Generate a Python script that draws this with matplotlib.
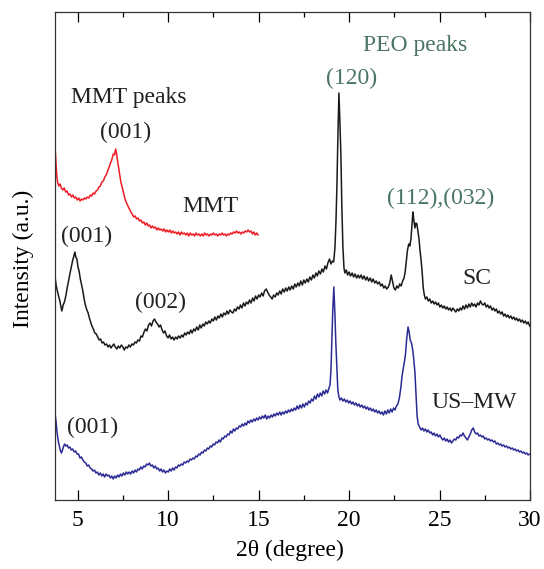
import matplotlib
matplotlib.use("Agg")
import matplotlib.pyplot as plt
from matplotlib.ticker import MultipleLocator

# XRD patterns (2theta in degrees, intensity in arbitrary units)
mmt_2theta = [3.75, 3.78, 3.81, 3.85, 3.90, 3.96, 4.03, 4.10, 4.18, 4.26, 4.34, 4.42, 4.50, 4.58, 4.66,
              4.74, 4.82, 4.90, 4.98, 5.06, 5.14, 5.22, 5.30, 5.38, 5.46, 5.54, 5.62, 5.70, 5.78, 5.86,
              5.94, 6.02, 6.10, 6.18, 6.26, 6.34, 6.42, 6.50, 6.58, 6.66, 6.74, 6.82, 6.90, 6.97, 7.04,
              7.10, 7.15, 7.20, 7.26, 7.32, 7.39, 7.46, 7.54, 7.62, 7.70, 7.78, 7.86, 7.94, 8.02, 8.10,
              8.18, 8.26, 8.34, 8.42, 8.50, 8.58, 8.66, 8.74, 8.82, 8.90, 8.98, 9.06, 9.14, 9.22, 9.30,
              9.38, 9.46, 9.54, 9.62, 9.70, 9.78, 9.86, 9.94, 10.02, 10.10, 10.18, 10.26, 10.34, 10.42,
              10.50, 10.58, 10.66, 10.74, 10.82, 10.90, 10.98, 11.06, 11.14, 11.22, 11.30, 11.38, 11.46,
              11.54, 11.62, 11.70, 11.78, 11.86, 11.94, 12.02, 12.10, 12.18, 12.26, 12.34, 12.42, 12.50,
              12.58, 12.66, 12.74, 12.82, 12.90, 12.98, 13.06, 13.14, 13.22, 13.30, 13.38, 13.46, 13.54,
              13.62, 13.70, 13.78, 13.86, 13.94, 14.02, 14.10, 14.18, 14.26, 14.34, 14.42, 14.50, 14.58,
              14.66, 14.74, 14.82, 14.90, 14.97]
mmt_int = [352, 345, 335, 324, 317, 314, 316, 312, 310, 312, 308, 309, 305, 306, 303,
           305, 302, 303, 300, 302, 299, 301, 300, 302, 301, 303, 302, 305, 304, 307,
           306, 309, 310, 313, 314, 318, 319, 323, 325, 329, 333, 337, 341, 346, 345,
           351, 347, 340, 333, 326, 318, 313, 307, 301, 297, 294, 291, 288, 286, 283,
           284, 281, 282, 279, 280, 277, 278, 275, 277, 274, 275, 272, 274, 272, 273,
           270, 272, 270, 271, 269, 271, 268, 270, 268, 270, 267, 269, 267, 268,
           266, 268, 265, 268, 266, 267, 265, 267, 264, 267, 265, 266, 264,
           267, 265, 266, 264, 266, 264, 267, 265, 266, 264, 266, 265, 267,
           265, 266, 264, 266, 265, 267, 265, 266, 264, 266, 265, 267, 266,
           268, 267, 269, 267, 268, 266, 268, 267, 269, 268, 270, 268, 269,
           266, 268, 265, 267, 265]

sc_2theta = [3.76, 3.82, 3.88, 3.95, 4.02, 4.08, 4.13, 4.20, 4.27, 4.35, 4.42, 4.50, 4.57, 4.65, 4.72,
             4.79, 4.85, 4.90, 4.96, 5.02, 5.08, 5.15, 5.22, 5.29, 5.36, 5.43, 5.51, 5.58, 5.65, 5.72,
             5.79, 5.87, 5.95, 6.03, 6.11, 6.19, 6.27, 6.35, 6.43, 6.51, 6.60, 6.68, 6.76, 6.84, 6.92,
             7.00, 7.08, 7.17, 7.25, 7.33, 7.42, 7.50, 7.58, 7.66, 7.75, 7.83, 7.91, 8.00, 8.08, 8.17,
             8.25, 8.33, 8.42, 8.50, 8.58, 8.67, 8.75, 8.83, 8.92, 9.00, 9.08, 9.17, 9.25, 9.33, 9.42,
             9.50, 9.58, 9.67, 9.75, 9.83, 9.92, 10.00, 10.08, 10.17, 10.25, 10.33, 10.42, 10.50, 10.58,
             10.67, 10.75, 10.83, 10.92, 11.00, 11.08, 11.17, 11.25, 11.33, 11.42, 11.50, 11.58, 11.67,
             11.75, 11.83, 11.92, 12.00, 12.08, 12.17, 12.25, 12.33, 12.42, 12.50, 12.58, 12.67, 12.75,
             12.83, 12.92, 13.00, 13.08, 13.17, 13.25, 13.33, 13.42, 13.50, 13.58, 13.67, 13.75, 13.83,
             13.92, 14.00, 14.08, 14.17, 14.25, 14.33, 14.42, 14.50, 14.58, 14.67, 14.75, 14.83, 14.92,
             15.00, 15.08, 15.17, 15.25, 15.33, 15.42, 15.50, 15.58, 15.67, 15.75, 15.83, 15.92, 16.00,
             16.08, 16.17, 16.25, 16.33, 16.42, 16.50, 16.58, 16.67, 16.75, 16.83, 16.92, 17.00, 17.08,
             17.17, 17.25, 17.33, 17.42, 17.50, 17.58, 17.67, 17.75, 17.83, 17.92, 18.00, 18.08, 18.17,
             18.25, 18.33, 18.42, 18.50, 18.58, 18.67, 18.75, 18.83, 18.92, 19.00, 19.08, 19.15, 19.22,
             19.28, 19.33, 19.38, 19.44, 19.50, 19.55, 19.60, 19.66, 19.72, 19.77, 19.85, 19.92, 20.00,
             20.08, 20.17, 20.25, 20.33, 20.42, 20.50, 20.58, 20.67, 20.75, 20.83, 20.92, 21.00, 21.08,
             21.17, 21.25, 21.33, 21.42, 21.50, 21.58, 21.67, 21.75, 21.83, 21.92, 22.00, 22.08, 22.17,
             22.25, 22.33, 22.40, 22.48, 22.56, 22.64, 22.72, 22.80, 22.88, 22.96, 23.04, 23.10, 23.16,
             23.23, 23.30, 23.36, 23.42, 23.48, 23.53, 23.58, 23.64, 23.70, 23.75, 23.81, 23.86, 23.92,
             23.98, 24.04, 24.10, 24.16, 24.22, 24.30, 24.38, 24.46, 24.54, 24.62, 24.70, 24.78, 24.86,
             24.94, 25.02, 25.10, 25.18, 25.26, 25.34, 25.42, 25.50, 25.58, 25.66, 25.74, 25.82, 25.90,
             25.98, 26.06, 26.14, 26.22, 26.30, 26.38, 26.46, 26.54, 26.62, 26.70, 26.78, 26.86, 26.94,
             27.02, 27.10, 27.18, 27.26, 27.34, 27.42, 27.50, 27.58, 27.66, 27.74, 27.82, 27.90, 27.98,
             28.06, 28.14, 28.22, 28.30, 28.38, 28.46, 28.54, 28.62, 28.70, 28.78, 28.86, 28.94, 29.02,
             29.10, 29.18, 29.26, 29.34, 29.42, 29.50, 29.58, 29.66, 29.74, 29.82, 29.90, 29.98]
sc_int = [222, 214, 209, 204, 199, 193, 189, 195, 198, 204, 212, 219, 226, 233, 239,
          244, 248, 243, 241, 233, 229, 221, 215, 209, 201, 195, 190, 187, 182, 178,
          174, 171, 167, 166, 163, 160, 161, 157, 158, 155, 156, 153, 155, 152, 154,
          156, 153, 151, 154, 152, 155, 153, 150, 153, 152, 155, 153, 156, 155, 158,
          157, 160, 159, 164, 163, 168, 171, 169, 175, 177, 174, 179, 181, 178, 176,
          173, 175, 170, 167, 169, 164, 162, 165, 161, 163, 160, 163, 161, 164,
          162, 165, 163, 167, 165, 168, 166, 170, 167, 171, 169, 173, 170,
          175, 172, 176, 174, 178, 176, 179, 177, 181, 179, 183, 180, 184,
          182, 186, 183, 187, 185, 189, 186, 190, 188, 187, 191, 189, 193,
          191, 195, 192, 197, 194, 198, 196, 200, 197, 202, 199, 204, 201,
          205, 203, 207, 204, 209, 211, 208, 205, 203, 201, 205, 203, 207,
          205, 209, 206, 211, 208, 212, 209, 213, 210, 214, 211, 216, 213,
          217, 214, 219, 215, 220, 217, 221, 218, 223, 220, 225, 222, 227,
          224, 229, 226, 231, 228, 234, 231, 237, 241, 236, 239, 238, 252,
          280, 315, 360, 407, 375, 345, 295, 253, 232, 227, 230, 225, 228,
          224, 227, 223, 226, 222, 225, 222, 225, 221, 224, 220, 223, 219,
          222, 218, 221, 217, 219, 216, 218, 214, 216, 212, 214, 211, 213,
          217, 225, 219, 212, 210, 214, 212, 216, 214, 219, 222, 228, 238,
          250, 256, 254, 261, 275, 288, 280, 272, 277, 276, 268, 262, 250,
          240, 228, 212, 205, 201, 203, 199, 201, 197, 199, 196, 198, 195,
          197, 193, 195, 192, 194, 191, 193, 190, 192, 189, 192, 190, 188,
          191, 189, 192, 190, 194, 191, 195, 192, 196, 193, 197, 194, 196,
          193, 197, 195, 199, 196, 195, 197, 193, 195, 192, 194, 190, 192,
          189, 191, 187, 189, 186, 188, 184, 186, 183, 185, 182, 184, 181,
          183, 180, 182, 179, 181, 178, 180, 177, 179, 176, 178, 174]

usmw_2theta = [3.77, 3.81, 3.85, 3.89, 3.94, 3.99, 4.04, 4.10, 4.15, 4.21, 4.28, 4.35, 4.42, 4.50, 4.57,
               4.65, 4.73, 4.81, 4.89, 4.97, 5.05, 5.13, 5.21, 5.29, 5.37, 5.45, 5.53, 5.61, 5.69, 5.77,
               5.85, 5.93, 6.01, 6.09, 6.17, 6.25, 6.33, 6.41, 6.49, 6.57, 6.65, 6.73, 6.81, 6.89, 6.97,
               7.05, 7.13, 7.21, 7.29, 7.37, 7.45, 7.53, 7.61, 7.69, 7.77, 7.85, 7.93, 8.01, 8.09, 8.17,
               8.25, 8.33, 8.41, 8.49, 8.57, 8.65, 8.73, 8.81, 8.89, 8.97, 9.05, 9.13, 9.21, 9.29, 9.37,
               9.45, 9.53, 9.61, 9.69, 9.77, 9.85, 9.93, 10.01, 10.09, 10.17, 10.25, 10.33, 10.41, 10.49,
               10.57, 10.65, 10.73, 10.81, 10.89, 10.97, 11.05, 11.13, 11.21, 11.29, 11.37, 11.45, 11.53,
               11.61, 11.69, 11.77, 11.85, 11.93, 12.01, 12.09, 12.17, 12.25, 12.33, 12.41, 12.49, 12.57,
               12.65, 12.73, 12.81, 12.89, 12.97, 13.05, 13.13, 13.21, 13.29, 13.37, 13.45, 13.53, 13.61,
               13.69, 13.77, 13.85, 13.93, 14.01, 14.09, 14.17, 14.25, 14.33, 14.41, 14.49, 14.57, 14.65,
               14.73, 14.81, 14.89, 14.97, 15.05, 15.13, 15.21, 15.29, 15.37, 15.45, 15.53, 15.61, 15.69,
               15.77, 15.85, 15.93, 16.01, 16.09, 16.17, 16.25, 16.33, 16.41, 16.49, 16.57, 16.65, 16.73,
               16.81, 16.89, 16.97, 17.05, 17.13, 17.21, 17.29, 17.37, 17.45, 17.53, 17.61, 17.69, 17.77,
               17.85, 17.93, 18.01, 18.09, 18.17, 18.25, 18.33, 18.41, 18.49, 18.57, 18.65, 18.73, 18.81,
               18.89, 18.95, 19.00, 19.05, 19.10, 19.16, 19.22, 19.27, 19.33, 19.38, 19.44, 19.50, 19.58,
               19.66, 19.74, 19.82, 19.90, 19.98, 20.06, 20.14, 20.22, 20.30, 20.38, 20.46, 20.54, 20.62,
               20.70, 20.78, 20.86, 20.94, 21.02, 21.10, 21.18, 21.26, 21.34, 21.42, 21.50, 21.58, 21.66,
               21.74, 21.82, 21.90, 21.98, 22.06, 22.14, 22.22, 22.30, 22.38, 22.46, 22.54, 22.62, 22.70,
               22.78, 22.86, 22.93, 23.00, 23.06, 23.12, 23.19, 23.26, 23.32, 23.38, 23.45, 23.52, 23.58,
               23.64, 23.70, 23.76, 23.82, 23.90, 23.98, 24.06, 24.14, 24.22, 24.30, 24.38, 24.46, 24.54,
               24.62, 24.70, 24.78, 24.86, 24.94, 25.02, 25.10, 25.18, 25.26, 25.34, 25.42, 25.50, 25.58,
               25.66, 25.74, 25.82, 25.90, 25.98, 26.06, 26.14, 26.22, 26.30, 26.38, 26.46, 26.54, 26.62,
               26.70, 26.78, 26.86, 26.94, 27.02, 27.10, 27.18, 27.26, 27.34, 27.42, 27.50, 27.58, 27.66,
               27.74, 27.82, 27.90, 27.98, 28.06, 28.14, 28.22, 28.30, 28.38, 28.46, 28.54, 28.62, 28.70,
               28.78, 28.86, 28.94, 29.02, 29.10, 29.18, 29.26, 29.34, 29.42, 29.50, 29.58, 29.66, 29.74,
               29.82, 29.90, 29.98]
usmw_int = [84, 78, 70, 64, 58, 54, 50, 47, 49, 53, 56, 54, 55, 52, 53,
            50, 51, 48, 49, 46, 46, 42, 43, 40, 38, 37, 34, 35, 32, 31,
            29, 30, 27, 28, 25, 27, 24, 26, 23, 26, 24, 25, 22, 24, 21,
            24, 22, 25, 23, 26, 24, 27, 25, 28, 26, 28, 26, 29, 27, 30,
            28, 31, 30, 33, 31, 34, 33, 36, 35, 37, 34, 35, 32, 34, 31,
            32, 29, 31, 28, 30, 27, 29, 28, 31, 29, 32, 30, 33, 32,
            35, 34, 36, 35, 38, 37, 39, 38, 41, 40, 42, 41, 44,
            43, 46, 45, 48, 47, 50, 49, 52, 51, 54, 53, 56, 55,
            58, 57, 60, 58, 62, 61, 64, 63, 66, 65, 69, 67, 71,
            69, 72, 71, 74, 73, 76, 74, 77, 75, 79, 77, 80, 78,
            81, 79, 82, 80, 83, 81, 84, 82, 85, 81, 84, 82, 85,
            83, 86, 84, 87, 85, 88, 85, 88, 86, 89, 87, 90, 88,
            91, 89, 92, 90, 94, 91, 95, 92, 96, 93, 97, 95, 99,
            97, 101, 99, 104, 101, 106, 103, 107, 104, 109, 106, 110, 107,
            112, 115, 130, 160, 190, 213, 185, 157, 130, 110, 103, 100, 102,
            99, 101, 98, 100, 97, 99, 96, 98, 95, 97, 94, 96, 93,
            95, 92, 94, 91, 93, 90, 92, 89, 91, 88, 90, 87, 89,
            86, 88, 85, 89, 86, 90, 87, 91, 88, 92, 90, 94, 96,
            102, 112, 124, 132, 138, 146, 162, 173, 168, 160, 157, 150, 140,
            128, 105, 84, 76, 73, 70, 72, 69, 71, 68, 70, 67, 68,
            65, 67, 64, 66, 63, 65, 62, 60, 62, 59, 61, 58, 60,
            57, 59, 61, 60, 63, 62, 65, 64, 67, 64, 62, 60, 63,
            66, 70, 72, 68, 66, 67, 64, 65, 63, 64, 61, 62, 60,
            61, 59, 60, 58, 59, 56, 57, 55, 56, 54, 55, 53, 54,
            52, 53, 51, 52, 50, 51, 49, 50, 48, 49, 47, 48, 46,
            47, 45, 46]

xticks = [5, 10, 15, 20, 25, 30]

plt.rcParams['font.family'] = ['Liberation Serif', 'DejaVu Serif']

fig = plt.figure(figsize=(5.44, 5.69), dpi=100)
ax = fig.add_axes([55 / 544, 69 / 569, 475 / 544, 488 / 569])

ax.plot(mmt_2theta, mmt_int, color='#ee1c24', lw=1.1)
ax.plot(sc_2theta, sc_int, color='#1a1a1a', lw=1.1)
ax.plot(usmw_2theta, usmw_int, color='#2b2b95', lw=1.1)

ax.set_xlim(3.75, 30)
ax.set_ylim(0, 488)
ax.set_xticks(xticks)
ax.xaxis.set_minor_locator(MultipleLocator(2.5))
ax.set_yticks([])
ax.tick_params(axis='x', which='both', direction='in', top=True, labelsize=17, pad=7, width=0.9)
ax.tick_params(axis='x', which='major', length=7)
ax.tick_params(axis='x', which='minor', length=3.6)
for sp in ax.spines.values():
    sp.set_linewidth(0.9)
    sp.set_color('#333333')

ax.set_xlabel('2θ (degree)', fontsize=17)
ax.xaxis.set_label_coords(0.495, -0.082)
ax.set_ylabel('Intensity (a.u.)', fontsize=17)
ax.yaxis.set_label_coords(-0.045, 0.495)

peo = '#4a7562'
txt = dict(fontsize=17, ha='center', va='center')
ax.text(7.84, 402, 'MMT peaks', color='#222222', **txt)
ax.text(7.67, 368, '(001)', color='#222222', **txt)
ax.text(12.37, 293, 'MMT', color='#222222', **txt)
ax.text(5.51, 264, '(001)', color='#222222', **txt)
ax.text(9.60, 198, '(002)', color='#222222', **txt)
ax.text(5.85, 73, '(001)', color='#222222', **txt)
ax.text(27.08, 222, 'SC', color='#222222', **txt)
ax.text(26.91, 98, 'US\u2013MW', color='#222222', **txt)
ax.text(23.65, 455, 'PEO peaks', color=peo, **txt)
ax.text(20.16, 422, '(120)', color=peo, **txt)
ax.text(25.08, 302, '(112),(032)', color=peo, **txt)

fig.savefig('out.png', dpi=100)
